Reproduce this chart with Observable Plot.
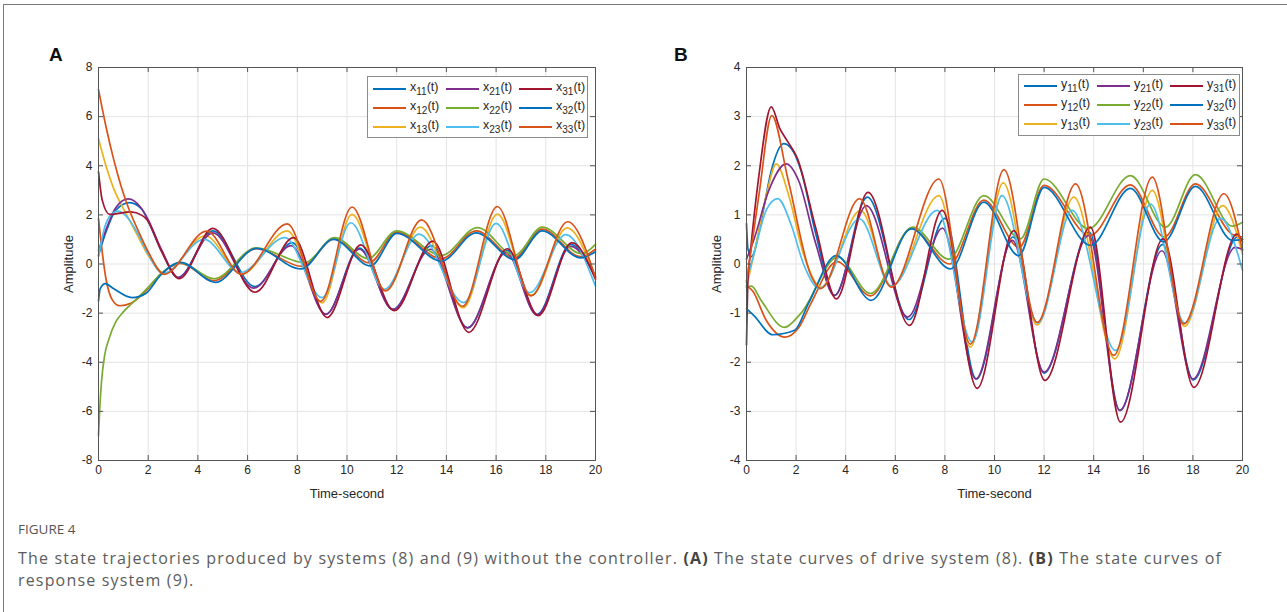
<!DOCTYPE html>
<html><head><meta charset="utf-8">
<script src="https://cdn.jsdelivr.net/npm/d3@7"></script>
<script src="https://cdn.jsdelivr.net/npm/@observablehq/plot@0.6"></script>
<style>
body{margin:0;background:#fff;}
#fig{position:relative;width:1287px;height:612px;overflow:hidden;font-family:"Liberation Sans",Arial,sans-serif;background:#fff;}
#border{position:absolute;left:3px;top:4px;width:1400px;height:800px;border:1px solid #7a7a7a;}
.panel{position:absolute;top:0;}
.letter{position:absolute;font-weight:bold;font-size:19px;color:#111;line-height:20px;}
.legend{position:absolute;background:#fff;border:1px solid #8c8c8c;font-size:12.5px;color:#262626;}
.item{position:absolute;height:16px;line-height:16px;white-space:nowrap;}
.sw{position:absolute;top:8px;height:2px;width:33px;}
.lab{position:absolute;left:37px;top:-1px;}
.lab sub{font-size:10px;vertical-align:-4px;line-height:0;}
#captitle{position:absolute;left:18px;top:520px;font-family:"Open Sans",Lato,sans-serif;font-size:13.5px;color:#555;}
#captext{position:absolute;left:18px;top:547px;font-family:"Open Sans",Lato,sans-serif;font-size:16px;line-height:22px;color:#5c5c5c;white-space:nowrap;}
#captext b{color:#444;}
</style></head>
<body>
<div id="fig">
  <div id="border"></div>
  <div id="pa" class="panel" style="left:0px"></div>
  <div id="pb" class="panel" style="left:643px"></div>
  <div class="letter" style="left:49px;top:45px">A</div>
  <div class="letter" style="left:674px;top:45px">B</div>
  <div id="lga" class="legend" style="left:367px;top:76px;width:219px;height:60px"></div>
  <div id="lgb" class="legend" style="left:1018px;top:74px;width:220px;height:60px"></div>
  <div id="captitle">FIGURE 4</div>
  <div id="captext"><span id="l1">The state trajectories produced by systems (8) and (9) without the controller. <b>(A)</b> The state curves of drive system (8). <b>(B)</b> The state curves of</span><br>response system (9).</div>
</div>
<script>
// ---- ticks ----
const timeTicks = [0,2,4,6,8,10,12,14,16,18,20];
const ampTicksA = [-8,-6,-4,-2,0,2,4,6,8];
const ampTicksB = [-4,-3,-2,-1,0,1,2,3,4];

// ---- series names & colours (MATLAB default order) ----
const namesA = ["x11","x12","x13","x21","x22","x23","x31","x32","x33"];
const namesB = ["y11","y12","y13","y21","y22","y23","y31","y32","y33"];
const palette = ["#0072BD","#D95319","#EDB120","#7E2F8E","#77AC30","#4DBEEE","#A2142F","#0072BD","#D95319"];

// ---- Panel A: [time, amplitude] ----
const x11 = [[0,0.35],[0.3,1.3],[0.7,2.2],[1.25,2.5],[1.75,2.22],[1.95,1.85],[2.55,0.5],[3.2,-0.55],[4.6,1.35],[6.3,-0.92],[7.8,0.87],[9.15,-2.05],[10.5,0.65],[11.85,-1.85],[13.4,0.75],[14.85,-2.6],[16.45,0.55],[17.65,-2.05],[19.0,0.8],[20,-0.55]];
const x12 = [[0,1.85],[0.3,-0.6],[0.55,-1.45],[0.85,-1.7],[1.3,-1.6],[1.9,-1.1],[2.5,-0.42],[3.3,0.02],[4.65,-0.68],[6.35,0.62],[8.2,-0.1],[9.5,1.02],[10.9,0.05],[12.0,1.3],[13.8,0.22],[15.2,1.35],[16.75,0.25],[17.85,1.42],[19.4,0.3],[20,0.6]];
const x13 = [[0,5.1],[0.3,4.0],[0.6,3.1],[1.0,2.25],[1.5,1.3],[2.0,0.35],[2.65,-0.38],[4.3,1.15],[5.75,-0.4],[7.6,1.35],[9.0,-1.58],[10.2,2.02],[11.55,-1.08],[12.95,1.5],[14.68,-1.78],[16.05,2.03],[17.42,-1.28],[18.85,1.47],[20,-0.6]];
const x21 = [[0,0.55],[0.3,1.4],[0.7,2.3],[1.2,2.65],[1.7,2.3],[1.95,1.9],[2.55,0.55],[3.2,-0.55],[4.6,1.27],[6.25,-0.98],[7.75,0.75],[9.15,-2.05],[10.5,0.6],[11.85,-1.85],[13.35,0.6],[14.85,-2.6],[16.4,0.47],[17.65,-2.08],[19.0,0.72],[20,-0.5]];
const x22 = [[0,-7.0],[0.05,-5.9],[0.12,-4.8],[0.25,-3.7],[0.42,-3.05],[0.7,-2.35],[1.0,-1.95],[1.5,-1.45],[2.0,-0.95],[2.5,-0.4],[3.3,0.05],[4.65,-0.6],[6.35,0.66],[8.3,0.05],[9.5,1.07],[10.85,0.22],[12.0,1.35],[13.8,0.35],[15.25,1.48],[16.75,0.35],[17.85,1.5],[19.45,0.42],[20,0.8]];
const x23 = [[0,0.3],[0.25,1.5],[0.5,2.0],[0.8,2.15],[1.2,1.85],[1.6,1.2],[2.0,0.4],[2.6,-0.38],[4.25,1.0],[5.7,-0.35],[7.5,1.07],[9.0,-1.37],[10.15,1.68],[11.5,-1.03],[12.9,1.22],[14.7,-1.57],[16.0,1.65],[17.35,-1.17],[18.8,1.2],[20,-0.9]];
const x31 = [[0,3.75],[0.15,2.6],[0.45,2.02],[1.3,2.12],[1.75,1.98],[1.95,1.8],[2.56,0.46],[3.25,-0.6],[4.6,1.45],[6.3,-1.15],[7.85,1.07],[9.2,-2.18],[10.55,0.78],[11.9,-1.9],[13.45,0.93],[14.9,-2.78],[16.45,0.62],[17.7,-2.1],[19.05,0.87],[20,-0.62]];
const x32 = [[0,-1.5],[0.07,-1.0],[0.28,-0.8],[0.6,-1.0],[1.35,-1.37],[1.9,-1.2],[2.5,-0.45],[3.3,0.07],[4.7,-0.75],[6.35,0.64],[8.15,-0.2],[9.45,1.0],[10.95,-0.08],[12.0,1.25],[13.8,0.12],[15.2,1.27],[16.75,0.18],[17.85,1.35],[19.4,0.25],[20,0.5]];
const x33 = [[0,7.1],[0.3,5.6],[0.6,4.3],[0.9,3.2],[1.2,2.3],[1.6,1.35],[2.0,0.5],[2.65,-0.42],[4.35,1.34],[5.75,-0.42],[7.6,1.63],[8.95,-1.52],[10.2,2.32],[11.55,-1.1],[13.0,1.8],[14.65,-1.72],[16.05,2.34],[17.4,-1.3],[18.88,1.72],[20,-0.55]];

// ---- Panel B ----
const y11 = [[0,0.82],[0.06,0.3],[0.2,0.15],[0.6,0.9],[1.0,1.9],[1.5,2.45],[1.9,2.28],[2.2,1.9],[2.8,0.6],[3.55,-0.64],[4.87,1.36],[6.55,-1.13],[8.0,0.93],[9.27,-2.34],[10.75,0.55],[12.0,-2.22],[13.82,0.65],[15.06,-2.98],[16.78,0.4],[18.02,-2.36],[19.8,0.55],[20,0.5]];
const y12 = [[0,-0.44],[0.25,-0.55],[0.8,-1.15],[1.55,-1.49],[2.1,-1.3],[2.6,-0.8],[3.65,0.05],[5.0,-0.65],[6.65,0.72],[8.2,0.0],[9.57,1.3],[11.0,0.34],[12.0,1.6],[13.85,0.58],[15.48,1.61],[16.85,0.55],[18.1,1.63],[19.6,0.6],[20,0.55]];
const y13 = [[0,-0.47],[0.3,0.2],[0.8,1.4],[1.2,2.04],[1.7,1.4],[2.3,0.2],[3.0,-0.47],[4.6,1.09],[5.85,-0.45],[7.76,1.39],[9.03,-1.69],[10.35,1.65],[11.72,-1.24],[13.2,1.36],[14.85,-1.93],[16.36,1.5],[17.66,-1.27],[19.2,1.19],[20,0.2]];
const y21 = [[0,0.1],[0.3,0.5],[0.9,1.5],[1.6,2.04],[2.1,1.7],[2.8,0.4],[3.55,-0.64],[4.83,1.19],[6.5,-1.08],[7.9,0.73],[9.25,-2.34],[10.72,0.48],[12.0,-2.2],[13.8,0.58],[15.05,-2.98],[16.75,0.27],[18.0,-2.34],[19.7,0.34],[20,0.3]];
const y22 = [[0,-0.47],[0.2,-0.45],[0.6,-0.75],[1.53,-1.29],[2.2,-1.0],[3.68,0.14],[5.0,-0.6],[6.7,0.75],[8.16,0.1],[9.57,1.39],[11.05,0.51],[12.0,1.73],[13.8,0.72],[15.48,1.8],[16.9,0.75],[18.1,1.82],[19.6,0.77],[20,0.85]];
const y23 = [[0,-0.34],[0.3,0.2],[0.8,1.1],[1.26,1.33],[1.8,0.8],[2.3,0.0],[2.94,-0.5],[4.56,0.92],[5.85,-0.45],[7.69,1.09],[9.1,-1.59],[10.3,1.39],[11.75,-1.2],[13.13,1.09],[14.88,-1.76],[16.29,1.22],[17.68,-1.2],[19.11,0.93],[20,-0.13]];
const y31 = [[0,-1.65],[0.06,-0.3],[0.15,0.2],[0.5,1.8],[1.0,3.2],[1.35,2.75],[1.65,2.5],[2.05,2.15],[2.8,0.72],[3.62,-0.71],[4.9,1.46],[6.57,-1.25],[7.89,1.09],[9.3,-2.53],[10.78,0.68],[12.03,-2.37],[13.87,0.75],[15.08,-3.22],[16.8,0.51],[18.04,-2.51],[19.78,0.61],[20,0.45]];
const y32 = [[0,-0.91],[0.3,-1.05],[1.06,-1.44],[1.94,-1.35],[2.5,-0.8],[3.62,0.17],[5.03,-0.74],[6.65,0.72],[8.23,-0.1],[9.57,1.26],[10.98,0.17],[12.0,1.56],[13.87,0.38],[15.48,1.54],[16.83,0.45],[18.1,1.58],[19.6,0.48],[20,0.5]];
const y33 = [[0,-0.37],[0.5,1.4],[1.02,3.02],[1.67,1.73],[2.6,-0.23],[3.0,-0.5],[4.56,1.33],[5.83,-0.47],[7.76,1.73],[9.03,-1.63],[10.38,1.92],[11.72,-1.19],[13.27,1.63],[14.81,-1.86],[16.36,1.77],[17.63,-1.22],[19.25,1.43],[20,0.28]];

const seriesA = [x11,x12,x13,x21,x22,x23,x31,x32,x33];
const seriesB = [y11,y12,y13,y21,y22,y23,y31,y32,y33];

function panel(names, series, yTicks, yDomain, width, marginLeft) {
  const data = names.flatMap((n, i) => series[i].map(([t, v]) => ({t, v, s: n})));
  const H = 500, mT = 67, mB = 40, mR = 45;
  const innerH = H - mT - mB, innerW = width - marginLeft - mR;
  const axisCol = "#555";
  return Plot.plot({
    width, height: H, marginTop: mT, marginBottom: mB, marginLeft, marginRight: mR,
    style: {fontFamily: "'Liberation Sans', Arial, sans-serif", fontSize: "12px", color: "#262626", background: "transparent", overflow: "visible"},
    x: {domain: [0, 20]},
    y: {domain: yDomain},
    color: {domain: names, range: palette},
    marks: [
      Plot.gridX(timeTicks, {stroke: "#e3e3e3", strokeOpacity: 1}),
      Plot.gridY(yTicks, {stroke: "#e3e3e3", strokeOpacity: 1}),
      Plot.line(data, {x: "t", y: "v", z: "s", stroke: "s", strokeWidth: 1.7, curve: "monotone-x"}),
      Plot.tickX(timeTicks, {x: d => d, insetTop: innerH - 5, stroke: axisCol}),
      Plot.tickX(timeTicks, {x: d => d, insetBottom: innerH - 5, stroke: axisCol}),
      Plot.tickY(yTicks, {y: d => d, insetRight: innerW - 5, stroke: axisCol}),
      Plot.tickY(yTicks, {y: d => d, insetLeft: innerW - 5, stroke: axisCol}),
      Plot.axisX(timeTicks, {tickSize: 0, tickPadding: 5, tickFormat: d => String(d), fontSize: 12, label: null}),
      Plot.axisX({ticks: [], tickSize: 0, label: "Time-second", labelAnchor: "center", labelOffset: 37, labelArrow: "none", fontSize: 13}),
      Plot.axisY(yTicks, {tickSize: 0, tickPadding: 6, tickFormat: d => String(d), fontSize: 12, label: null}),
      Plot.axisY({ticks: [], tickSize: 0, label: "Amplitude", labelAnchor: "center", labelOffset: 35, labelArrow: "none", fontSize: 13}),
      Plot.frame({stroke: axisCol})
    ]
  });
}

document.getElementById("pa").appendChild(panel(namesA, seriesA, ampTicksA, [-8, 8], 640, 98));
document.getElementById("pb").appendChild(panel(namesB, seriesB, ampTicksB, [-4, 4], 644, 103));

function legend(el, names, rowTop, rowGap) {
  const cols = [5, 78, 151];
  names.forEach((n, i) => {
    const col = Math.floor(i / 3), row = i % 3;
    const it = document.createElement("div");
    it.className = "item";
    it.style.left = cols[col] + "px";
    it.style.top = (rowTop + row * rowGap) + "px";
    it.innerHTML = `<div class="sw" style="background:${palette[i]}"></div><div class="lab">${n[0]}<sub>${n.slice(1)}</sub>(t)</div>`;
    el.appendChild(it);
  });
}
legend(document.getElementById("lga"), namesA, 3, 19);
legend(document.getElementById("lgb"), namesB, 2, 19);

// stretch caption first line (letter spacing) to the reference width
const cap = document.getElementById("captext");
const l1 = document.getElementById("l1");
const w = l1.getBoundingClientRect().width;
const n = l1.textContent.length;
if (w > 0 && w < 1204) cap.style.letterSpacing = ((1204 - w) / n).toFixed(3) + "px";
</script>
</body></html>
